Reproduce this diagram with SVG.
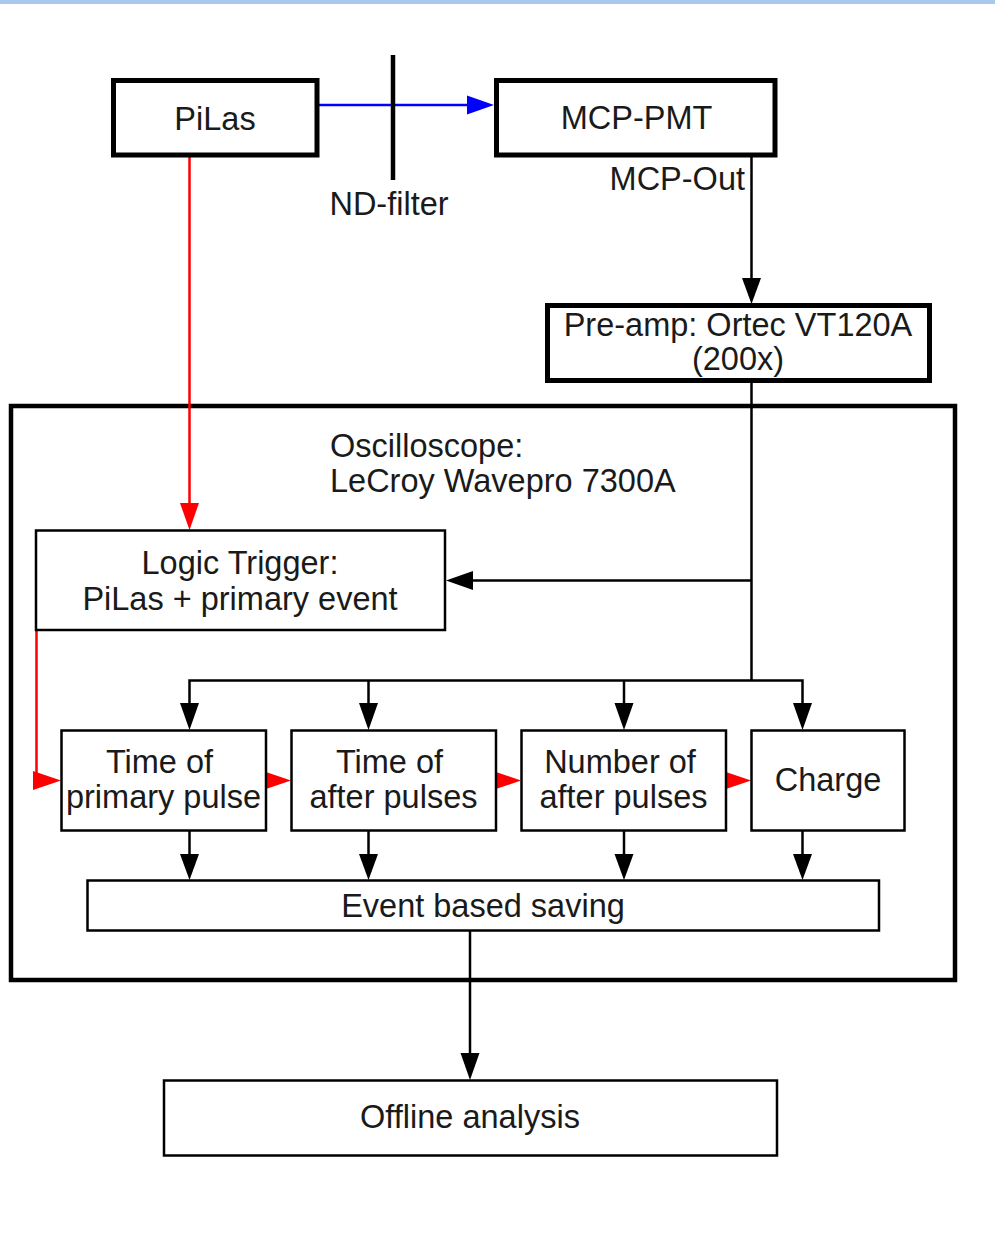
<svg xmlns="http://www.w3.org/2000/svg" width="995" height="1245" viewBox="0 0 995 1245">
<style>
text{font-family:"Liberation Sans",Arial,sans-serif;font-size:32.5px;fill:#1a1a1a}
.m{text-anchor:middle}
.e{text-anchor:end}
.thick{fill:#fff;stroke:#000;stroke-width:5}
.thin{fill:#fff;stroke:#000;stroke-width:2.5}
.scope{fill:none;stroke:#000;stroke-width:4.5}
.k{fill:none;stroke:#000;stroke-width:2.5}
.r{fill:none;stroke:#f00;stroke-width:2.5}
.b{fill:none;stroke:#00f;stroke-width:2.5}
.hk{fill:#000}
.hr{fill:#f00}
.hb{fill:#00f}
</style>
<rect x="0" y="0" width="995" height="4" fill="#a9c8ee"/>
<g id="oscilloscope">
<rect class="scope" x="11" y="406" width="944" height="574"/>
<text x="330" y="457">Oscilloscope:</text>
<text x="330" y="492">LeCroy Wavepro 7300A</text>
</g>
<g id="connectors">
<line class="b" x1="318" y1="105" x2="470" y2="105"/>
<polygon class="hb" points="467,95.5 494,105 467,114.5"/>
<line x1="393" y1="55" x2="393" y2="180" stroke="#000" stroke-width="4.5"/>
<line class="k" x1="751.5" y1="157" x2="751.5" y2="280"/>
<polygon class="hk" points="742,278 761,278 751.5,304"/>
<polyline class="k" points="751.5,383 751.5,680.5"/>
<line class="k" x1="751.5" y1="580.5" x2="470" y2="580.5"/>
<polygon class="hk" points="473,571 473,590 446,580.5"/>
<line class="r" x1="189.5" y1="157" x2="189.5" y2="505"/>
<polygon class="hr" points="180,503 199,503 189.5,530"/>
<polyline class="r" points="36.5,630 36.5,780.5 40,780.5"/>
<polygon class="hr" points="33,771 33,790 61,780.5"/>
<polygon class="hr" points="263,771 263,790 291,780.5"/>
<polygon class="hr" points="493,771 493,790 521,780.5"/>
<polygon class="hr" points="723,771 723,790 751,780.5"/>
<polyline class="k" points="189.5,705 189.5,680.5 802.5,680.5 802.5,705"/>
<line class="k" x1="368.5" y1="680.5" x2="368.5" y2="705"/>
<line class="k" x1="624" y1="680.5" x2="624" y2="705"/>
<polygon class="hk" points="180,703 199,703 189.5,730"/>
<polygon class="hk" points="359,703 378,703 368.5,730"/>
<polygon class="hk" points="614.5,703 633.5,703 624,730"/>
<polygon class="hk" points="793,703 812,703 802.5,730"/>
<line class="k" x1="189.5" y1="831" x2="189.5" y2="855"/>
<line class="k" x1="368.5" y1="831" x2="368.5" y2="855"/>
<line class="k" x1="624" y1="831" x2="624" y2="855"/>
<line class="k" x1="802.5" y1="831" x2="802.5" y2="855"/>
<polygon class="hk" points="180,854 199,854 189.5,880"/>
<polygon class="hk" points="359,854 378,854 368.5,880"/>
<polygon class="hk" points="614.5,854 633.5,854 624,880"/>
<polygon class="hk" points="793,854 812,854 802.5,880"/>
<line class="k" x1="470" y1="931" x2="470" y2="1055"/>
<polygon class="hk" points="460.5,1053 479.5,1053 470,1080"/>
</g>
<g id="pilas">
<rect class="thick" x="113.5" y="80.5" width="203.5" height="74.5"/>
<text class="m" x="215" y="130">PiLas</text>
</g>
<g id="nd-filter">
<text class="m" x="389" y="215">ND-filter</text>
</g>
<g id="mcp-pmt">
<rect class="thick" x="496.5" y="80.5" width="278.5" height="74.5"/>
<text class="m" x="636.5" y="129">MCP-PMT</text>
<text class="e" x="745" y="190">MCP-Out</text>
</g>
<g id="preamp">
<rect class="thick" x="547.5" y="305.5" width="382" height="75"/>
<text class="m" x="738" y="336">Pre-amp: Ortec VT120A</text>
<text class="m" x="738" y="370">(200x)</text>
</g>
<g id="logic-trigger">
<rect class="thin" x="36" y="530.5" width="409" height="99.5"/>
<text class="m" x="240" y="574">Logic Trigger:</text>
<text class="m" x="240" y="610">PiLas + primary event</text>
</g>
<g id="time-primary">
<rect class="thin" x="61.5" y="730.5" width="204.5" height="100"/>
<text class="m" x="159.5" y="773">Time of</text>
<text class="m" x="163.5" y="808">primary pulse</text>
</g>
<g id="time-after">
<rect class="thin" x="291.5" y="730.5" width="204.5" height="100"/>
<text class="m" x="389.5" y="773">Time of</text>
<text class="m" x="393.5" y="808">after pulses</text>
</g>
<g id="number-after">
<rect class="thin" x="521.5" y="730.5" width="204.5" height="100"/>
<text class="m" x="620" y="773">Number of</text>
<text class="m" x="623.5" y="808">after pulses</text>
</g>
<g id="charge">
<rect class="thin" x="751.5" y="730.5" width="153" height="100"/>
<text class="m" x="828" y="791">Charge</text>
</g>
<g id="event-saving">
<rect class="thin" x="87.5" y="880.5" width="791.5" height="50"/>
<text class="m" x="483" y="917">Event based saving</text>
</g>
<g id="offline">
<rect class="thin" x="164" y="1080.5" width="613" height="75"/>
<text class="m" x="470" y="1128">Offline analysis</text>
</g>
</svg>
